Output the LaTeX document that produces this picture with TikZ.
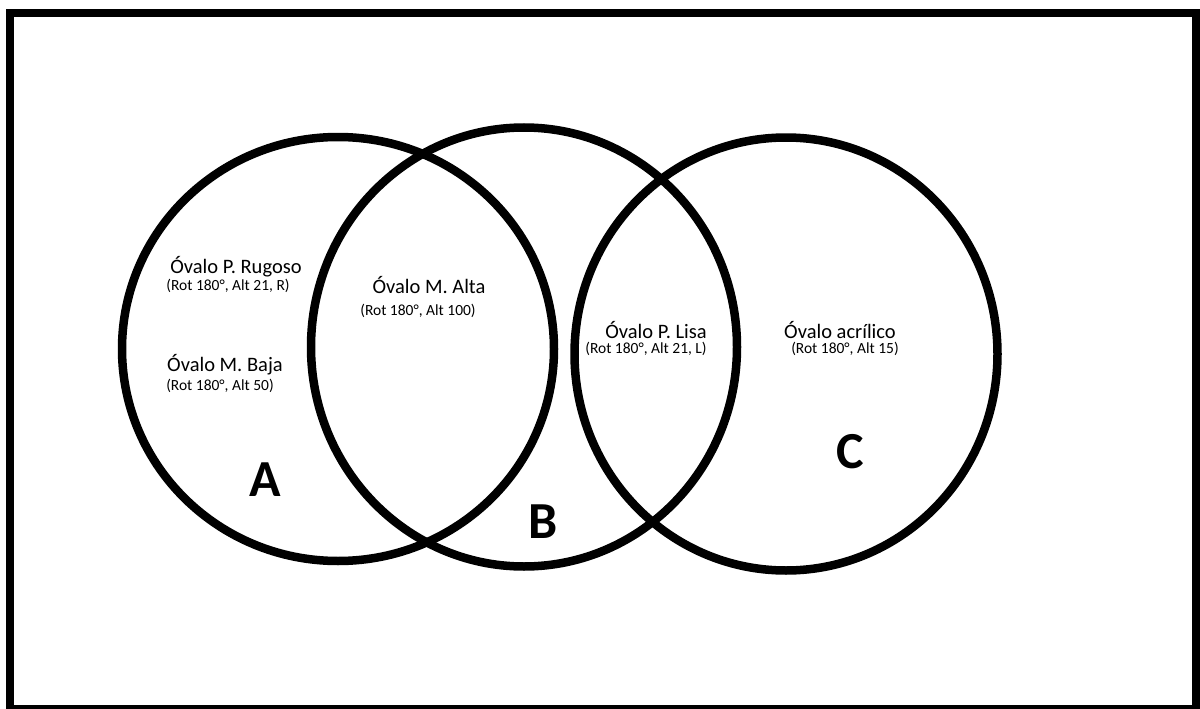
\documentclass[tikz,border=0pt]{standalone}
\usepackage{fontspec}
\setmainfont{Carlito}
\usepackage{tikz}
\usetikzlibrary{shapes.geometric}
\usetikzlibrary{positioning}

\tikzset{
    setring/.style={shape=ellipse,draw=black,line width=8.5pt,inner sep=0pt,outer sep=0pt},
    itemname/.style={inner sep=0pt,font=\fontsize{20.5}{24}\selectfont},
    itemspec/.style={inner sep=0pt,font=\fontsize{15.5}{18}\selectfont},
    setletter/.style={inner sep=0pt,font=\fontsize{52}{60}\selectfont\bfseries}
}

\begin{document}
\begin{tikzpicture}[x=1pt,y=-1pt]
    \useasboundingbox (0,0) rectangle (1200,709);

        % Frame
        \draw[line width=8pt] (10,13) rectangle (1196,709);

        % Set rings
        \node[setring,minimum width=432pt,minimum height=424pt] (SA) at (338,349) {};
        \node[setring,minimum width=426pt,minimum height=439pt] (SB) at (524,347) {};
        \node[setring,minimum width=423pt,minimum height=433pt] (SC) at (786,354) {};

        % Set A
        \node[itemname] (PR) at (236,267) {Óvalo P. Rugoso};
        \node[itemspec] (PRs) at (228,286) {(Rot 180°, Alt 21, R)};
        \node[itemname] (MB) at (225,365) {Óvalo M. Baja};
        \node[itemspec] (MBs) at (220,386) {(Rot 180°, Alt 50)};

        % Set A and B
        \node[itemname] (MA) at (429,285) {Óvalo M. Alta};
        \node[itemspec] (MAs) at (418,311) {(Rot 180°, Alt 100)};

        % Set B and C
        \node[itemname] (PL) at (656,330) {Óvalo P. Lisa};
        \node[itemspec] (PLs) at (646,349) {(Rot 180°, Alt 21, L)};

        % Set C
        \node[itemname] (AC) at (840,330) {Óvalo acrílico};
        \node[itemspec] (ACs) at (845,349) {(Rot 180°, Alt 15)};

        % Letters
        \node[setletter] (LA) at (265,480) {A};
        \node[setletter] (LB) at (543,522) {B};
        \node[setletter] (LC) at (850,452) {C};

    \end{tikzpicture}
\end{document}
